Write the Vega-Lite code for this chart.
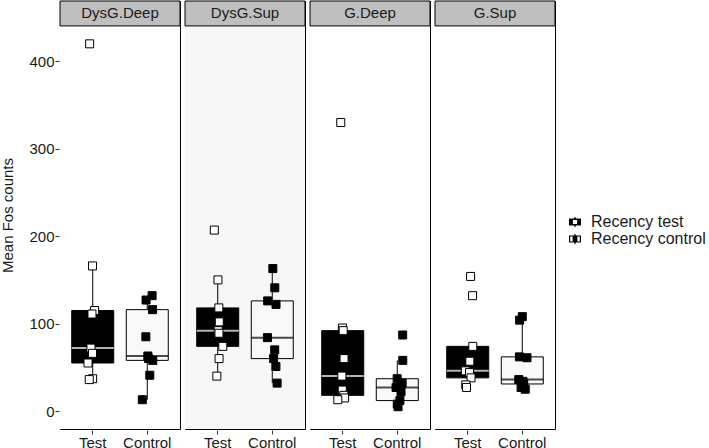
{
  "$schema": "https://vega.github.io/schema/vega-lite/v6.json",
  "padding": {"left": 0, "top": 0, "right": 0, "bottom": 0},
  "background": "white",
  "config": {
    "font": "Liberation Sans",
    "view": {"stroke": "black", "strokeWidth": 1},
    "axis": {"labelFontSize": 15, "titleFontSize": 15, "titleFontWeight": "normal", "labelColor": "#1a1a1a", "titleColor": "#1a1a1a", "tickColor": "#333333", "tickSize": 4, "domain": false, "grid": false, "labelPadding": 1},
    "axisY": {"titlePadding": 13}
  },
  "data": {"values": [
    {"region": "DysG.Deep", "group": "Test", "value": 420},
    {"region": "DysG.Deep", "group": "Test", "value": 166},
    {"region": "DysG.Deep", "group": "Test", "value": 115},
    {"region": "DysG.Deep", "group": "Test", "value": 111},
    {"region": "DysG.Deep", "group": "Test", "value": 72},
    {"region": "DysG.Deep", "group": "Test", "value": 66},
    {"region": "DysG.Deep", "group": "Test", "value": 55},
    {"region": "DysG.Deep", "group": "Test", "value": 37},
    {"region": "DysG.Deep", "group": "Test", "value": 36},
    {"region": "DysG.Deep", "group": "Control", "value": 132},
    {"region": "DysG.Deep", "group": "Control", "value": 127},
    {"region": "DysG.Deep", "group": "Control", "value": 116},
    {"region": "DysG.Deep", "group": "Control", "value": 85},
    {"region": "DysG.Deep", "group": "Control", "value": 63},
    {"region": "DysG.Deep", "group": "Control", "value": 60},
    {"region": "DysG.Deep", "group": "Control", "value": 58},
    {"region": "DysG.Deep", "group": "Control", "value": 41},
    {"region": "DysG.Deep", "group": "Control", "value": 13},
    {"region": "DysG.Sup", "group": "Test", "value": 207},
    {"region": "DysG.Sup", "group": "Test", "value": 150},
    {"region": "DysG.Sup", "group": "Test", "value": 118},
    {"region": "DysG.Sup", "group": "Test", "value": 102},
    {"region": "DysG.Sup", "group": "Test", "value": 92},
    {"region": "DysG.Sup", "group": "Test", "value": 89},
    {"region": "DysG.Sup", "group": "Test", "value": 74},
    {"region": "DysG.Sup", "group": "Test", "value": 60},
    {"region": "DysG.Sup", "group": "Test", "value": 40},
    {"region": "DysG.Sup", "group": "Control", "value": 163},
    {"region": "DysG.Sup", "group": "Control", "value": 141},
    {"region": "DysG.Sup", "group": "Control", "value": 126},
    {"region": "DysG.Sup", "group": "Control", "value": 122},
    {"region": "DysG.Sup", "group": "Control", "value": 84},
    {"region": "DysG.Sup", "group": "Control", "value": 70},
    {"region": "DysG.Sup", "group": "Control", "value": 60},
    {"region": "DysG.Sup", "group": "Control", "value": 51},
    {"region": "DysG.Sup", "group": "Control", "value": 32},
    {"region": "G.Deep", "group": "Test", "value": 330},
    {"region": "G.Deep", "group": "Test", "value": 95},
    {"region": "G.Deep", "group": "Test", "value": 92},
    {"region": "G.Deep", "group": "Test", "value": 60},
    {"region": "G.Deep", "group": "Test", "value": 40},
    {"region": "G.Deep", "group": "Test", "value": 24},
    {"region": "G.Deep", "group": "Test", "value": 18},
    {"region": "G.Deep", "group": "Test", "value": 15},
    {"region": "G.Deep", "group": "Test", "value": 13},
    {"region": "G.Deep", "group": "Control", "value": 87},
    {"region": "G.Deep", "group": "Control", "value": 58},
    {"region": "G.Deep", "group": "Control", "value": 37},
    {"region": "G.Deep", "group": "Control", "value": 32},
    {"region": "G.Deep", "group": "Control", "value": 27},
    {"region": "G.Deep", "group": "Control", "value": 22},
    {"region": "G.Deep", "group": "Control", "value": 12},
    {"region": "G.Deep", "group": "Control", "value": 8},
    {"region": "G.Deep", "group": "Control", "value": 5},
    {"region": "G.Sup", "group": "Test", "value": 154},
    {"region": "G.Sup", "group": "Test", "value": 132},
    {"region": "G.Sup", "group": "Test", "value": 74},
    {"region": "G.Sup", "group": "Test", "value": 57},
    {"region": "G.Sup", "group": "Test", "value": 46},
    {"region": "G.Sup", "group": "Test", "value": 44},
    {"region": "G.Sup", "group": "Test", "value": 38},
    {"region": "G.Sup", "group": "Test", "value": 30},
    {"region": "G.Sup", "group": "Test", "value": 27},
    {"region": "G.Sup", "group": "Control", "value": 108},
    {"region": "G.Sup", "group": "Control", "value": 104},
    {"region": "G.Sup", "group": "Control", "value": 62},
    {"region": "G.Sup", "group": "Control", "value": 61},
    {"region": "G.Sup", "group": "Control", "value": 36},
    {"region": "G.Sup", "group": "Control", "value": 34},
    {"region": "G.Sup", "group": "Control", "value": 31},
    {"region": "G.Sup", "group": "Control", "value": 27},
    {"region": "G.Sup", "group": "Control", "value": 25}
  ]},
  "facet": {"column": {"field": "region", "type": "nominal", "sort": ["DysG.Deep", "DysG.Sup", "G.Deep", "G.Sup"], "header": {"title": null, "labels": false}}},
  "spacing": 3,
  "spec": {
    "width": 120,
    "height": 428,
    "layer": [
      {
        "transform": [{"aggregate": [{"op": "count", "as": "n"}], "groupby": ["region"]}],
        "mark": {"type": "rect"},
        "encoding": {
          "y": {"datum": -20.5, "type": "quantitative", "scale": {"domain": [-20.5, 469], "nice": false, "zero": false}, "axis": {"title": "Mean Fos counts", "values": [0, 100, 200, 300, 400]}},
          "y2": {"datum": 440.5},
          "fill": {"condition": {"test": "datum.region === 'DysG.Sup'", "value": "#f7f7f7"}, "value": "white"}
        }
      },
      {
        "transform": [{"aggregate": [{"op": "count", "as": "n"}], "groupby": ["region"]}],
        "mark": {"type": "rect", "fill": "#bfbfbf", "stroke": "black", "strokeWidth": 1},
        "encoding": {
          "y": {"datum": 440.5, "type": "quantitative", "scale": {"domain": [-20.5, 469], "nice": false, "zero": false}, "axis": {"title": "Mean Fos counts", "values": [0, 100, 200, 300, 400]}},
          "y2": {"datum": 469}
        }
      },
      {
        "transform": [{"aggregate": [{"op": "count", "as": "n"}], "groupby": ["region"]}],
        "mark": {"type": "text", "fontSize": 15, "color": "#1a1a1a", "baseline": "middle", "align": "center"},
        "encoding": {
          "y": {"datum": 454.75, "type": "quantitative", "scale": {"domain": [-20.5, 469], "nice": false, "zero": false}, "axis": {"title": "Mean Fos counts", "values": [0, 100, 200, 300, 400]}},
          "text": {"field": "region", "type": "nominal"}
        }
      },
      {
        "transform": [{"filter": "datum.group === 'Test'"}],
        "mark": {"type": "boxplot", "extent": 1.5, "size": 42, "outliers": false, "color": "black",
                 "box": {"fill": "black", "stroke": "black", "strokeWidth": 1},
                 "median": {"color": "white", "thickness": 2},
                 "rule": {"color": "black", "strokeWidth": 1}},
        "encoding": {
          "x": {"field": "group", "type": "nominal", "sort": ["Test", "Control"], "scale": {"domain": ["Test", "Control"], "paddingInner": 0, "paddingOuter": 0.1}, "axis": {"title": null, "labelAngle": 0}},
          "y": {"field": "value", "type": "quantitative", "scale": {"domain": [-20.5, 469], "nice": false, "zero": false}, "axis": {"title": "Mean Fos counts", "values": [0, 100, 200, 300, 400]}}
        }
      },
      {
        "transform": [{"filter": "datum.group === 'Control'"}],
        "mark": {"type": "boxplot", "extent": 1.5, "size": 42, "outliers": false, "color": "#f9f9f9",
                 "box": {"fill": "#f9f9f9", "stroke": "black", "strokeWidth": 1},
                 "median": {"color": "black", "thickness": 2},
                 "rule": {"color": "black", "strokeWidth": 1}},
        "encoding": {
          "x": {"field": "group", "type": "nominal", "sort": ["Test", "Control"], "scale": {"domain": ["Test", "Control"], "paddingInner": 0, "paddingOuter": 0.1}, "axis": {"title": null, "labelAngle": 0}},
          "y": {"field": "value", "type": "quantitative", "scale": {"domain": [-20.5, 469], "nice": false, "zero": false}, "axis": {"title": "Mean Fos counts", "values": [0, 100, 200, 300, 400]}}
        }
      },
      {
        "transform": [{"calculate": "((datum.value * 7.31) % 1) * 2 - 1", "as": "jit"}],
        "mark": {"type": "point", "shape": "square", "size": 64, "filled": true, "opacity": 1, "stroke": "black", "strokeWidth": 1},
        "encoding": {
          "x": {"field": "group", "type": "nominal", "sort": ["Test", "Control"], "scale": {"domain": ["Test", "Control"], "paddingInner": 0, "paddingOuter": 0.1}, "axis": {"title": null, "labelAngle": 0}},
          "xOffset": {"field": "jit", "type": "quantitative", "scale": {"domain": [-1, 1], "range": [22, 33]}},
          "y": {"field": "value", "type": "quantitative", "scale": {"domain": [-20.5, 469], "nice": false, "zero": false}, "axis": {"title": "Mean Fos counts", "values": [0, 100, 200, 300, 400]}},
          "fill": {"condition": {"test": "datum.group === 'Test'", "value": "white"}, "value": "black"}
        }
      },
      {
        "mark": {"type": "point", "filled": true, "color": "black", "opacity": 0},
        "encoding": {
          "shape": {"field": "group", "type": "nominal",
            "scale": {"domain": ["Test", "Control"], "range": [
              "M-1,-0.58H1V0.58H-1Z M-0.35,-0.35V0.35H0.35V-0.35Z M-0.1,-0.85H0.1V-0.58H-0.1Z M-0.1,0.58H0.1V0.85H-0.1Z",
              "M-1,-0.58H1V0.58H-1Z M-0.8,-0.4V0.4H0.8V-0.4Z M-0.4,-0.4H0.4V0.4H-0.4Z M-0.1,-0.85H0.1V-0.58H-0.1Z M-0.1,0.58H0.1V0.85H-0.1Z"
            ]},
            "legend": {"title": null, "orient": "none", "legendX": 507, "legendY": 213, "labelFontSize": 16, "labelColor": "#1a1a1a", "symbolSize": 144, "symbolOpacity": 1, "symbolFillColor": "black", "symbolStrokeWidth": 0, "labelExpr": "datum.label === 'Test' ? 'Recency test' : 'Recency control'", "rowPadding": 1, "labelOffset": 8}
          }
        }
      }
    ]
  }
}
